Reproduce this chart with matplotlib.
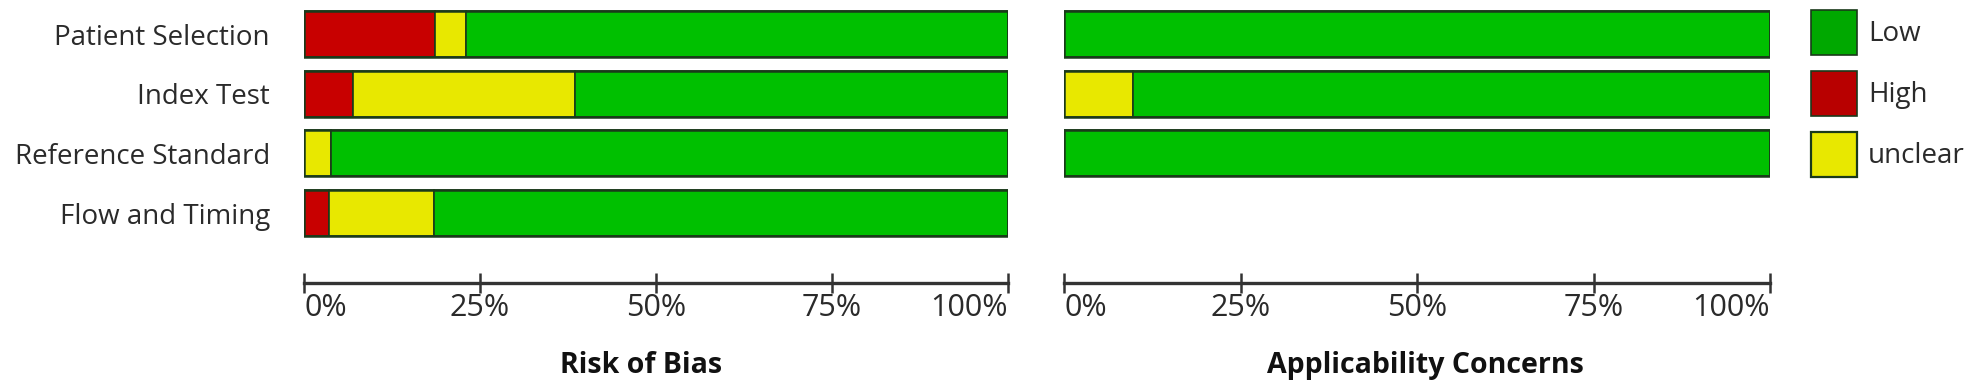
import numpy as np
import matplotlib.pyplot as plt
from matplotlib.patches import Patch

plt.rcParams['font.family'] = ['Open Sans', 'DejaVu Sans']

domains = ["Patient Selection", "Index Test", "Reference Standard", "Flow and Timing"]
bias_high = [18.6, 7.0, 0.0, 3.6]
bias_unclear = [4.4, 31.5, 3.8, 14.9]
bias_low = [77.0, 61.5, 96.2, 81.5]

app_domains = ["Patient Selection", "Index Test", "Reference Standard"]
app_high = [0.0, 0.0, 0.0]
app_unclear = [0.0, 9.8, 0.0]
app_low = [100.0, 90.2, 100.0]

ticks = [0, 25, 50, 75, 100]
tick_labels = ["0%", "25%", "50%", "75%", "100%"]

c_low = "#00c000"
c_high = "#c80000"
c_unclear = "#e8e800"
edge = "#1a3a1a"
txt = "#2a2a2a"

W, H = 1969, 387
fig = plt.figure(figsize=(W / 100, H / 100), dpi=100)


def panel(x0, x1, names, high, unclear, low, title, title_x, show_labels):
    ax = fig.add_axes([x0 / W, 1 - 283 / H, (x1 - x0) / W, 283 / H])
    y = np.arange(len(names))
    h = 0.77
    ax.barh(y, high, height=h, color=c_high, edgecolor=edge, linewidth=1.2)
    ax.barh(y, unclear, left=high, height=h, color=c_unclear, edgecolor=edge, linewidth=1.2)
    left2 = np.array(high) + np.array(unclear)
    ax.barh(y, low, left=left2, height=h, color=c_low, edgecolor=edge, linewidth=1.2)
    # outline around the whole bar
    ax.barh(y, [100] * len(names), height=h, color="none", edgecolor=edge, linewidth=1.8)
    ax.set_xlim(0, 100)
    ax.set_ylim(4.17, -0.57)
    for s in ["top", "right", "left"]:
        ax.spines[s].set_visible(False)
    ax.spines["bottom"].set_linewidth(2.4)
    ax.spines["bottom"].set_color("#333333")
    ax.set_xticks(ticks)
    ax.set_xticklabels(tick_labels, fontsize=22, color=txt)
    ax.tick_params(axis="x", direction="inout", length=15, width=1.8, color="#333333", pad=0)
    labs = ax.get_xticklabels()
    labs[0].set_horizontalalignment("left")
    labs[-1].set_horizontalalignment("right")
    if show_labels:
        ax.set_yticks(y)
        ax.set_yticklabels(names, fontsize=20, color=txt)
        ax.tick_params(axis="y", left=False, pad=21)
    else:
        ax.set_yticks([])
    fig.text(title_x / W, 1 - 373 / H, title, fontsize=20.5, fontweight="bold",
             color="#111111", ha="center", va="baseline")
    return ax


panel(304, 1008, domains, bias_high, bias_unclear, bias_low, "Risk of Bias", 641, True)
panel(1064, 1770, app_domains, app_high, app_unclear, app_low, "Applicability Concerns", 1425, False)

handles = [
    Patch(facecolor="#00a800", edgecolor=edge, linewidth=1.2, label="Low"),
    Patch(facecolor="#b80000", edgecolor=edge, linewidth=1.2, label="High"),
    Patch(facecolor=c_unclear, edgecolor=edge, linewidth=1.6, label="unclear"),
]
fig.legend(handles=handles, loc="upper left", bbox_to_anchor=(1811 / W, 1 - 10 / H),
           bbox_transform=fig.transFigure, frameon=False, fontsize=20,
           handlelength=1.65, handleheight=2.115, labelspacing=0.58,
           handletextpad=0.4, borderpad=0, borderaxespad=0, labelcolor=txt)

fig.savefig("out.png", dpi=100)
